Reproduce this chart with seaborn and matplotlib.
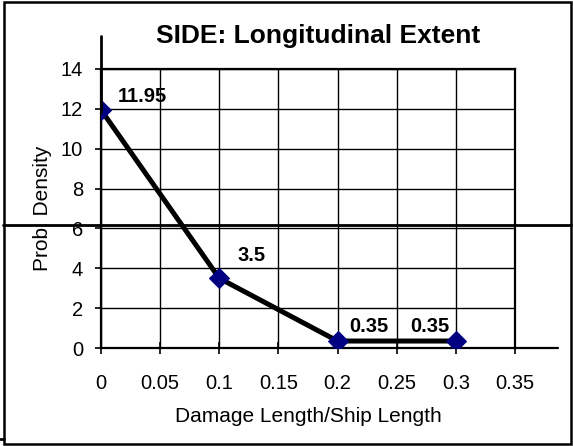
import matplotlib
matplotlib.use("Agg")
import matplotlib.pyplot as plt
import seaborn as sns
import pandas as pd
from matplotlib.lines import Line2D
from matplotlib.patches import Rectangle

# data
ratio = [0.0, 0.1, 0.2, 0.3]
density = [11.95, 3.5, 0.35, 0.35]
point_labels = ["11.95", "3.5", "0.35", "0.35"]
x_ticks = [0, 0.05, 0.1, 0.15, 0.2, 0.25, 0.3, 0.35]
y_ticks = [0, 2, 4, 6, 8, 10, 12, 14]

df = pd.DataFrame({"ratio": ratio, "density": density})

sns.set_style("white")
plt.rcParams["font.family"] = ["Liberation Sans", "DejaVu Sans"]
plt.rcParams["text.color"] = "black"
plt.rcParams["axes.labelcolor"] = "black"

fig = plt.figure(figsize=(5.73, 4.46), dpi=100)
ax = fig.add_axes([101 / 573, 1 - 348 / 446, 414 / 573, 279 / 446])

sns.lineplot(data=df, x="ratio", y="density", ax=ax, color="black",
             linewidth=3.6, marker="D", markersize=10,
             markerfacecolor="#000080", markeredgecolor="#000080", zorder=5)

ax.set_xlim(0, 0.35)
ax.set_ylim(0, 14)
ax.set_xticks(x_ticks)
ax.set_xticklabels([f"{t:g}" for t in x_ticks])
ax.set_yticks(y_ticks)
ax.grid(True, color="black", linewidth=1.0)
ax.set_axisbelow(True)

for side in ["top", "right", "left", "bottom"]:
    ax.spines[side].set_color("black")
    ax.spines[side].set_linewidth(1.6)

ax.tick_params(axis="both", labelsize=14.5, colors="black", labelcolor="black",
               width=1.2, left=True, bottom=True)
ax.tick_params(axis="x", direction="inout", length=9, pad=14)
ax.tick_params(axis="y", direction="out", length=4.5, pad=8.5)
ax.set_xlabel("Damage Length/Ship Length", fontsize=15, labelpad=10, color="black")
ax.set_ylabel("Prob. Density", fontsize=15, labelpad=6, color="black")

# data labels (pixel offsets, placed like the original)
offsets = [(17, 13), (18, 23), (12, 15), (-6, 15)]
aligns = ["left", "left", "left", "right"]
for xv, yv, lab, off, ha in zip(ratio, density, point_labels, offsets, aligns):
    ax.annotate(lab, (xv, yv), xytext=off, textcoords="offset pixels",
                ha=ha, va="center", fontsize=14.5, fontweight="bold", color="black")

fig.suptitle("SIDE: Longitudinal Extent", x=318 / 573, y=1 - 36 / 446,
             va="center", fontsize=19, fontweight="bold", color="black")

# stray drawing lines seen in the original chart
W, H = 573, 446
def fline(x0, y0, x1, y1, lw):
    fig.add_artist(Line2D([x0 / W, x1 / W], [1 - y0 / H, 1 - y1 / H],
                          color="black", linewidth=lw, transform=fig.transFigure))

fline(3, 225.5, 571, 225.5, 2.0)
fline(101, 36, 101, 112, 2.0)
fline(515, 348, 558, 348, 1.6)
fline(0, 439, 4, 439, 2.0)
fig.add_artist(Rectangle((3.5 / W, 2 / H), (571 - 3.5) / W, (444 - 2) / H,
                         fill=False, edgecolor="black", linewidth=1.8,
                         transform=fig.transFigure))

fig.savefig("out.png", dpi=100)
